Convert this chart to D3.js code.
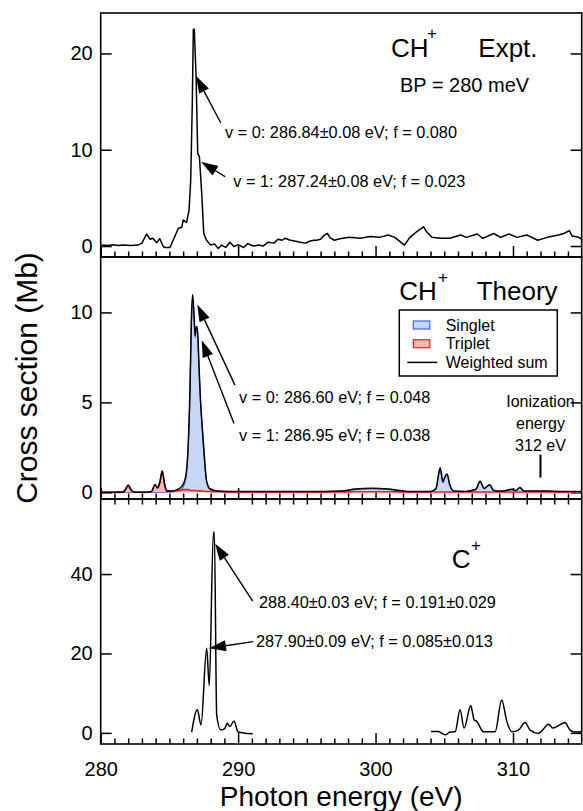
<!DOCTYPE html>
<html>
<head>
<meta charset="utf-8">
<script src="https://cdn.jsdelivr.net/npm/d3@7"></script>
<style>
body { margin: 0; background: #fff; }
svg { display: block; font-family: "Liberation Sans", Arial, Helvetica, sans-serif; }
</style>
</head>
<body>
<div id="chart"></div>
<script>
// ---- data ----
// top panel: CH+ experiment
var exptE = [280.07, 280.5, 280.9, 281.3, 281.6, 282.2, 282.7, 283.0, 283.34, 283.6, 283.8, 284.07, 284.3, 284.56, 284.7, 285.04, 285.28, 285.65, 285.9, 286.0, 286.25, 286.43, 286.55, 286.67, 286.74, 286.81, 286.94, 287.06, 287.18, 287.35, 287.5, 287.7, 288.0, 288.3, 288.55, 288.8, 289.1, 289.4, 289.7, 290.0, 290.4, 290.7, 291.1, 291.5, 291.8, 292.2, 292.6, 292.9, 293.2, 293.4, 293.8, 294.2, 294.5, 294.9, 295.2, 295.5, 295.7, 296.0, 296.2, 296.5, 296.7, 297.0, 297.4, 298.1, 298.9, 299.6, 300.3, 300.9, 301.4, 302.1, 302.5, 303.0, 303.5, 303.7, 304.1, 304.7, 305.4, 306.2, 306.6, 307.4, 307.8, 308.6, 309.1, 309.7, 310.3, 311.0, 311.8, 312.5, 313.3, 313.7, 314.1, 314.3, 314.8, 315.0];
var exptV = [0.1, 0.05, 0.14, 0.05, 0.1, 0.05, 0.1, 0.3, 1.25, 0.7, 0.8, 0.35, 0.75, -0.07, -0.15, -0.15, 0.62, 1.84, 1.94, 2.7, 2.45, 3.74, 6.85, 15.2, 22.5, 22.5, 17.6, 9.6, 9.3, 5.5, 1.3, 0.6, 0.1, 0.2, -0.25, 0.1, -0.15, 0.4, -0.05, 0.15, -0.15, 0.25, 0, 0.1, 0, 0.4, 0.3, 0.7, 0.6, 0.8, 0.6, 0.5, 0.4, 0.3, 0.5, 0.6, 0.6, 0.7, 1.05, 1.3, 0.85, 0.6, 0.75, 0.9, 0.8, 1.0, 0.9, 1.15, 0.9, 0.1, 0.9, 1.5, 2.0, 1.5, 0.9, 0.8, 0.8, 1.15, 0.9, 1.25, 0.8, 1.3, 0.9, 1.25, 0.9, 1.15, 0.6, 0.9, 1.15, 1.3, 1.6, 1.05, 0.9, 0.7];

// middle panel: CH+ theory
var theoryE = [280, 281.6, 281.8, 282.0, 282.2, 282.4, 283.0, 283.7, 283.95, 284.15, 284.3, 284.48, 284.65, 284.8, 285.2, 285.7, 286.0, 286.2, 286.35, 286.5, 286.6, 286.69, 286.8, 286.87, 286.95, 287.03, 287.15, 287.25, 287.4, 287.55, 287.7, 287.95, 288.5, 290, 295, 297.5, 298.5, 299.8, 301, 302.5, 304, 304.4, 304.55, 304.7, 304.9, 305.0, 305.2, 305.4, 305.7, 306.5, 307.3, 307.6, 307.9, 308.3, 308.6, 309.2, 309.9, 310.2, 310.5, 310.8, 311.5, 312.5, 313.5, 315];
var singletV = [0, 0, 0, 0, 0, 0, 0, 0, 0, 0, 0, 0, 0, 0, 0.02, 0.1, 0.3, 0.8, 2.2, 5.7, 9.5, 10.9, 9.6, 8.6, 9.1, 9.1, 7.0, 5.2, 3.4, 1.8, 0.6, 0.15, 0.05, 0.02, 0.02, 0.05, 0.15, 0.2, 0.15, 0.03, 0.03, 0.2, 0.8, 1.35, 0.55, 0.75, 1.0, 0.4, 0.05, 0.03, 0.15, 0.6, 0.2, 0.4, 0.08, 0.05, 0.15, 0.08, 0.25, 0.05, 0.05, 0.05, 0.02, 0.02];
var tripletV = [0, 0, 0.15, 0.4, 0.15, 0.02, 0, 0.05, 0.42, 0.25, 0.55, 1.18, 0.45, 0.08, 0.05, 0.1, 0.15, 0.15, 0.15, 0.12, 0.1, 0.1, 0.1, 0.1, 0.1, 0.08, 0.08, 0.08, 0.07, 0.06, 0.05, 0.05, 0.03, 0.02, 0.02, 0.02, 0.03, 0.03, 0.03, 0.02, 0.02, 0.02, 0.02, 0.02, 0.02, 0.02, 0.02, 0.02, 0.02, 0.02, 0.02, 0.02, 0.02, 0.02, 0.02, 0.02, 0.02, 0.02, 0.02, 0.02, 0.02, 0.02, 0.02, 0.02];
var sumV = [0, 0.02, 0.15, 0.4, 0.15, 0.02, 0, 0.05, 0.42, 0.25, 0.55, 1.18, 0.45, 0.08, 0.07, 0.2, 0.45, 0.95, 2.35, 5.8, 9.6, 11.0, 9.7, 8.7, 9.2, 9.2, 7.1, 5.3, 3.5, 1.9, 0.65, 0.2, 0.08, 0.04, 0.04, 0.07, 0.18, 0.23, 0.18, 0.05, 0.05, 0.22, 0.82, 1.37, 0.57, 0.77, 1.02, 0.42, 0.07, 0.05, 0.17, 0.62, 0.22, 0.42, 0.1, 0.07, 0.17, 0.1, 0.27, 0.07, 0.07, 0.07, 0.04, 0.04];

// bottom panel: C+ (no data between 291 and 304)
var cplusE = [286.62, 287.03, 287.3, 287.71, 287.9, 288.2, 288.27, 288.44, 288.73, 289.0, 289.21, 289.4, 289.7, 290.0, 290.4, 291.06, 297.5, 304.04, 304.57, 305.06, 305.42, 305.79, 306.15, 306.44, 306.93, 307.17, 307.36, 307.85, 308.7, 309.18, 309.55, 309.91, 310.4, 310.88, 311.25, 311.85, 312.1, 312.58, 312.9, 313.3, 313.78, 314.15, 314.5, 315.0];
var cplusV = [0.2, 5.8, 2.0, 21.3, 11.9, 50.5, 50.5, 4.5, 0.75, 1.0, 2.4, 1.6, 3.0, 0.2, 0, -0.25, null, 0.33, 0.33, -0.5, 0.2, 0.3, 5.8, 1.2, 6.9, 3.3, 2.9, 0.3, 0.3, 8.3, 2.9, 0.3, 0.7, 2.6, 0.7, -0.15, 0.5, 2.2, 1.2, 1.8, 2.6, 0.7, 0.2, 0.3];

var xTickLabels = [280, 290, 300, 310];
var yTicksTop = [0, 10, 20];
var yTicksMid = [0, 5, 10];
var yTicksBot = [0, 20, 40];

var peakLabelsTop = ["v = 0: 286.84\u00b10.08 eV; f = 0.080", "v = 1: 287.24\u00b10.08 eV; f = 0.023"];
var peakLabelsMid = ["v = 0: 286.60 eV; f = 0.048", "v = 1: 286.95 eV; f = 0.038"];
var peakLabelsBot = ["288.40\u00b10.03 eV; f = 0.191\u00b10.029", "287.90\u00b10.09 eV; f = 0.085\u00b10.013"];
var legendLabels = ["Singlet", "Triplet", "Weighted sum"];

// ---- layout ----
var W = 583, H = 811;
var left = 100.7, right = 581.7;
var blueFill = "#c9d7f6", blueLine = "#3a66ff";
var redFill = "#f7b6b6", redLine = "#ff1a1a";

var svg = d3.select("#chart").append("svg")
    .attr("width", W)
    .attr("height", H);

var x = d3.scaleLinear().domain([280, 315]).range([left, right]);

var panels = [
    {top: 13, bottom: 257, domain: [-1.14, 24.2], ticks: yTicksTop},
    {top: 257, bottom: 499, domain: [-0.37, 13.08], ticks: yTicksMid},
    {top: 499, bottom: 744, domain: [-2.8, 58.9], ticks: yTicksBot}
];
panels.forEach(function(p, i){
    p.y = d3.scaleLinear().domain(p.domain).range([p.bottom, p.top]);
    p.g = svg.append("g");
    svg.append("clipPath").attr("id", "clip" + i)
        .append("rect")
        .attr("x", left).attr("y", p.top)
        .attr("width", right - left).attr("height", p.bottom - p.top);
});

function styleAxis(g){
    g.select(".domain").remove();
    g.selectAll(".tick line").attr("stroke", "#000").attr("stroke-width", 1.5);
    g.selectAll(".tick text")
        .attr("fill", "#000")
        .style("font-size", "20px")
        .style("font-family", '"Liberation Sans", Arial, sans-serif');
}

var minorX = d3.range(281, 315).filter(function(d){ return d % 10 !== 0; });

panels.forEach(function(p, i){
    // x ticks, pointing inward from the bottom
    p.g.append("g")
        .attr("transform", "translate(0," + p.bottom + ")")
        .call(d3.axisBottom(x).tickValues(minorX).tickSize(-5.5).tickFormat(""))
        .call(styleAxis);
    p.g.append("g")
        .attr("transform", "translate(0," + p.bottom + ")")
        .call(d3.axisBottom(x).tickValues(xTickLabels).tickSize(-11).tickFormat(""))
        .call(styleAxis);
    if (i === 2) {
        // mirrored ticks along the top of the lowest panel
        p.g.append("g")
            .attr("transform", "translate(0," + p.top + ")")
            .call(d3.axisTop(x).tickValues(minorX).tickSize(-5.5).tickFormat(""))
            .call(styleAxis);
        p.g.append("g")
            .attr("transform", "translate(0," + p.bottom + ")")
            .call(d3.axisBottom(x).tickValues(xTickLabels).tickSize(0).tickPadding(18).tickFormat(d3.format("d")))
            .call(styleAxis);
    }
    p.g.append("g")
        .attr("transform", "translate(" + left + ",0)")
        .call(d3.axisLeft(p.y).tickValues(p.ticks).tickSize(-11).tickPadding(8).tickFormat(d3.format("d")))
        .call(styleAxis);
    p.g.append("g")
        .attr("transform", "translate(" + right + ",0)")
        .call(d3.axisRight(p.y).tickValues(p.ticks).tickSize(-11).tickFormat(""))
        .call(styleAxis);
});

// ---- top: experiment ----
var pT = panels[0];
var exptData = exptE.map(function(e, i){ return [e, exptV[i]]; });
pT.g.append("path")
    .datum(exptData)
    .attr("clip-path", "url(#clip0)")
    .attr("fill", "none")
    .attr("stroke", "#000")
    .attr("stroke-width", 1.5)
    .attr("stroke-linejoin", "round")
    .attr("d", d3.line()
        .x(function(d){ return x(d[0]); })
        .y(function(d){ return pT.y(d[1]); }));

// ---- middle: theory ----
var pM = panels[1];
var theoryData = theoryE.map(function(e, i){
    return {e: e, s: singletV[i], t: tripletV[i], w: sumV[i]};
});
function area(key){
    return d3.area().curve(d3.curveMonotoneX)
        .x(function(d){ return x(d.e); })
        .y0(pM.y(0))
        .y1(function(d){ return pM.y(d[key]); });
}
function line(key, yScale){
    return d3.line().curve(d3.curveMonotoneX)
        .x(function(d){ return x(d.e); })
        .y(function(d){ return yScale(d[key]); });
}
var gTh = pM.g.append("g").attr("clip-path", "url(#clip1)");
gTh.append("path").datum(theoryData).attr("fill", blueFill).attr("d", area("s"));
gTh.append("path").datum(theoryData).attr("fill", "none").attr("stroke", blueLine).attr("stroke-width", 1.2).attr("d", line("s", pM.y));
gTh.append("path").datum(theoryData).attr("fill", redFill).attr("d", area("t"));
gTh.append("path").datum(theoryData).attr("fill", "none").attr("stroke", redLine).attr("stroke-width", 1.6).attr("d", line("t", pM.y));
gTh.append("path").datum(theoryData).attr("fill", "none").attr("stroke", "#000").attr("stroke-width", 1.5).attr("d", line("w", pM.y));

// ionization energy marker
pM.g.append("line")
    .attr("x1", x(312)).attr("x2", x(312))
    .attr("y1", pM.y(2.1)).attr("y2", pM.y(0.82))
    .attr("stroke", "#000").attr("stroke-width", 2);
pM.g.append("text")
    .attr("x", x(312)).attr("y", 407)
    .attr("text-anchor", "middle")
    .style("font-size", "16px")
    .selectAll("tspan")
    .data(["Ionization", "energy", "312 eV"])
    .enter().append("tspan")
    .attr("x", x(312))
    .attr("dy", function(d, i){ return i ? 22 : 0; })
    .text(function(d){ return d; });

// legend
var lg = pM.g.append("g").attr("transform", "translate(399.3,310)");
lg.append("rect").attr("width", 158).attr("height", 66)
    .attr("fill", "#fff").attr("stroke", "#000").attr("stroke-width", 1.5);
var swatch = [{fill: blueFill, stroke: blueLine}, {fill: redFill, stroke: redLine}, null];
legendLabels.forEach(function(lab, i){
    var cy = 15 + i * 18.7;
    if (swatch[i]) {
        lg.append("rect").attr("x", 14).attr("y", cy - 4).attr("width", 16.5).attr("height", 8)
            .attr("fill", swatch[i].fill).attr("stroke", swatch[i].stroke).attr("stroke-width", 1.2);
    } else {
        lg.append("line").attr("x1", 8).attr("x2", 38).attr("y1", cy).attr("y2", cy)
            .attr("stroke", "#000").attr("stroke-width", 1.5);
    }
    lg.append("text").attr("x", 46.4).attr("y", cy + 5.6)
        .style("font-size", "16px").text(lab);
});

// ---- bottom: C+ ----
var pB = panels[2];
var cplusData = cplusE.map(function(e, i){ return [e, cplusV[i]]; });
pB.g.append("path")
    .datum(cplusData)
    .attr("clip-path", "url(#clip2)")
    .attr("fill", "none")
    .attr("stroke", "#000")
    .attr("stroke-width", 1.5)
    .attr("stroke-linejoin", "round")
    .attr("d", d3.line().curve(d3.curveMonotoneX)
        .defined(function(d){ return d[1] !== null; })
        .x(function(d){ return x(d[0]); })
        .y(function(d){ return pB.y(d[1]); }));

// ---- frames ----
panels.forEach(function(p){
    svg.append("rect")
        .attr("x", left).attr("y", p.top)
        .attr("width", right - left).attr("height", p.bottom - p.top)
        .attr("fill", "none").attr("stroke", "#000").attr("stroke-width", 1.6);
});

// ---- arrows and peak labels ----
// tip, tail and text start in data units of each panel
var arrowSpots = [
    {p: 0, tip: [286.94, 17.65], tail: [288.73, 12.8], at: [289.05, 11.2], label: peakLabelsTop[0]},
    {p: 0, tip: [287.3, 8.75], tail: [289.05, 7.2], at: [289.65, 6.15], label: peakLabelsTop[1]},
    {p: 1, tip: [287.03, 10.44], tail: [289.77, 5.96], at: [290.07, 4.94], label: peakLabelsMid[0]},
    {p: 1, tip: [287.35, 8.46], tail: [289.7, 3.83], at: [290.07, 2.85], label: peakLabelsMid[1]},
    {p: 2, tip: [288.32, 47.7], tail: [291.06, 33.2], at: [291.52, 31.4], label: peakLabelsBot[0]},
    {p: 2, tip: [287.88, 21.3], tail: [291.1, 22.97], at: [291.3, 21.7], label: peakLabelsBot[1]}
];
arrowSpots.forEach(function(a){
    var yS = panels[a.p].y;
    var tx = x(a.tip[0]), ty = yS(a.tip[1]);
    var sx = x(a.tail[0]), sy = yS(a.tail[1]);
    var dx = tx - sx, dy = ty - sy, len = Math.sqrt(dx * dx + dy * dy);
    var ux = dx / len, uy = dy / len;
    var headL = 17, headW = 5.5;
    var bx = tx - ux * headL, by = ty - uy * headL;
    svg.append("line")
        .attr("x1", sx).attr("y1", sy).attr("x2", bx).attr("y2", by)
        .attr("stroke", "#000").attr("stroke-width", 1.4);
    svg.append("path")
        .attr("d", "M" + tx + "," + ty +
            "L" + (bx - uy * headW) + "," + (by + ux * headW) +
            "L" + (bx + uy * headW) + "," + (by - ux * headW) + "Z")
        .attr("fill", "#000");
    svg.append("text")
        .attr("x", x(a.at[0])).attr("y", yS(a.at[1]))
        .style("font-size", "16.3px")
        .text(a.label);
});

// ---- panel titles ----
function title(g, xPos, yPos, main, sup, supX, supY, rest, restX, size){
    g.append("text").attr("x", xPos).attr("y", yPos).style("font-size", size + "px").text(main);
    g.append("text").attr("x", supX).attr("y", supY).style("font-size", "17px").text(sup);
    if (rest) g.append("text").attr("x", restX).attr("y", yPos).style("font-size", size + "px").text(rest);
}
title(pT.g, 391, 56.7, "CH", "+", 427, 39, "Expt.", 478.3, 26);
pT.g.append("text").attr("x", 400).attr("y", 91.7).style("font-size", "20px").text("BP = 280 meV");
title(pM.g, 399.3, 300, "CH", "+", 438, 283, "Theory", 476.7, 26);
title(pB.g, 451.7, 567.7, "C", "+", 471, 550.5, null, 0, 26);

// ---- axis titles ----
svg.append("text")
    .attr("x", (left + right) / 2).attr("y", 806)
    .attr("text-anchor", "middle")
    .style("font-size", "28px")
    .text("Photon energy (eV)");
svg.append("text")
    .attr("transform", "translate(37,378) rotate(-90)")
    .attr("text-anchor", "middle")
    .style("font-size", "30px")
    .text("Cross section (Mb)");
</script>
</body>
</html>
